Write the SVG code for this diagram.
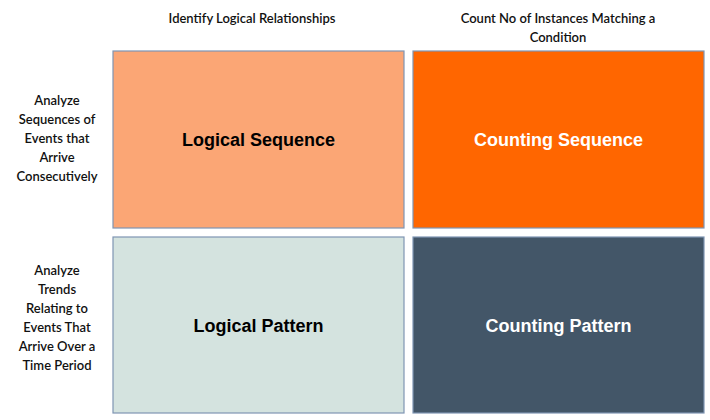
<svg xmlns="http://www.w3.org/2000/svg" width="710" height="420" viewBox="0 0 710 420">
<style>
.b{stroke:#7f95b3;stroke-width:1.2}
.h{font-family:Lato,"Liberation Sans",sans-serif;font-size:13px;font-weight:600;fill:#111;text-anchor:middle}
.l{font-family:"Liberation Sans",Arial,sans-serif;font-size:18px;font-weight:bold;text-anchor:middle}
</style>
<rect width="710" height="420" fill="#fff"/>
<g id="headers">
<text class="h" x="252" y="23">Identify Logical Relationships</text>
<text class="h" x="558" y="23">Count No of Instances Matching a</text>
<text class="h" x="558" y="42">Condition</text>
<text class="h" x="57" y="105">Analyze</text>
<text class="h" x="57" y="124">Sequences of</text>
<text class="h" x="57" y="143">Events that</text>
<text class="h" x="57" y="162">Arrive</text>
<text class="h" x="57" y="181">Consecutively</text>
<text class="h" x="57" y="275">Analyze</text>
<text class="h" x="57" y="294">Trends</text>
<text class="h" x="57" y="313">Relating to</text>
<text class="h" x="57" y="332">Events That</text>
<text class="h" x="57" y="351">Arrive Over a</text>
<text class="h" x="57" y="370">Time Period</text>
</g>
<g id="logical-sequence"><rect class="b" x="113" y="51" width="291" height="177" fill="#fba675"/><text class="l" x="258.5" y="146" fill="#000">Logical Sequence</text></g>
<g id="counting-sequence"><rect class="b" x="413" y="51" width="291" height="177" fill="#ff6600"/><text class="l" x="558.5" y="146" fill="#fff">Counting Sequence</text></g>
<g id="logical-pattern"><rect class="b" x="113" y="237" width="291" height="176" fill="#d4e3df"/><text class="l" x="258.5" y="332" fill="#000">Logical Pattern</text></g>
<g id="counting-pattern"><rect class="b" x="413" y="237" width="291" height="176" fill="#435668"/><text class="l" x="558.5" y="332" fill="#fff">Counting Pattern</text></g>
<g id="connectors"/>
</svg>
